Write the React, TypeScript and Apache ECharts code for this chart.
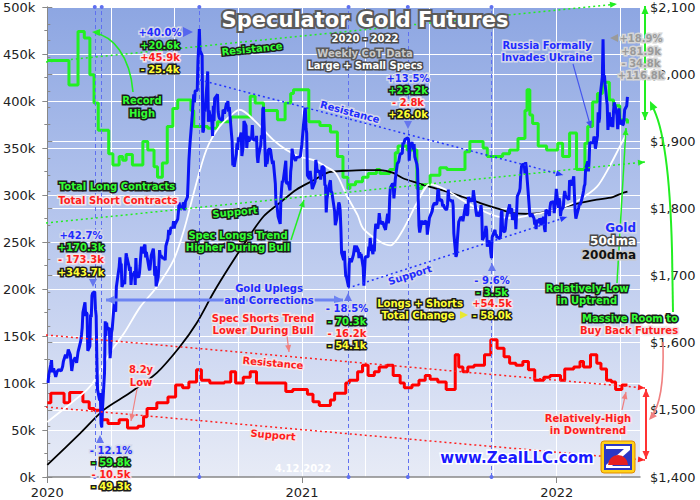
import React, { useEffect, useRef } from "react";
import * as echarts from "echarts";

// ---------- DATA ----------
// Gold price (right axis), [month, day, close]
const gold2020: number[][] = [
  [1,2,1540],[1,3,1552],[1,6,1568],[1,7,1574],[1,8,1556],[1,10,1562],[1,13,1549],[1,15,1557],[1,17,1560],[1,21,1558],[1,23,1565],[1,24,1572],[1,27,1582],[1,29,1577],[1,31,1590],
  [2,3,1582],[2,5,1558],[2,7,1572],[2,10,1578],[2,12,1570],[2,14,1586],[2,18,1603],[2,19,1612],[2,20,1622],[2,21,1645],[2,24,1660],[2,25,1640],[2,26,1645],[2,27,1643],[2,28,1588],
  [3,2,1595],[3,3,1642],[3,4,1638],[3,5,1670],[3,6,1674],[3,9,1676],[3,10,1650],[3,11,1640],[3,12,1577],[3,13,1530],[3,16,1514],[3,17,1525],[3,18,1480],[3,19,1474],[3,20,1499],[3,23,1555],[3,24,1632],[3,25,1610],[3,26,1630],[3,27,1620],[3,30,1622],[3,31,1577],
  [4,1,1591],[4,2,1615],[4,3,1620],[4,6,1660],[4,7,1650],[4,8,1646],[4,9,1683],[4,13,1713],[4,14,1727],[4,15,1716],[4,16,1718],[4,17,1683],[4,20,1693],[4,21,1687],[4,22,1714],[4,23,1733],[4,24,1728],[4,27,1714],[4,28,1707],[4,29,1713],[4,30,1686],
  [5,1,1700],[5,4,1703],[5,5,1706],[5,6,1686],[5,7,1726],[5,8,1702],[5,11,1697],[5,12,1703],[5,13,1715],[5,14,1729],[5,15,1743],[5,18,1733],[5,19,1744],[5,20,1746],[5,21,1727],[5,22,1735],[5,26,1710],[5,27,1708],[5,28,1718],[5,29,1730],
  [6,1,1740],[6,2,1727],[6,3,1700],[6,4,1714],[6,5,1684],[6,8,1698],[6,9,1716],[6,10,1738],[6,11,1729],[6,12,1730],[6,15,1725],[6,16,1727],[6,17,1727],[6,18,1723],[6,19,1744],[6,22,1755],[6,23,1768],[6,24,1761],[6,25,1763],[6,26,1771],[6,29,1772],[6,30,1781],
  [7,1,1770],[7,2,1776],[7,6,1784],[7,7,1795],[7,8,1809],[7,9,1803],[7,10,1798],[7,13,1803],[7,14,1809],[7,15,1807],[7,16,1797],[7,17,1810],[7,20,1817],[7,21,1842],[7,22,1871],[7,23,1888],[7,24,1902],[7,27,1941],[7,28,1958],[7,29,1970],[7,30,1958],[7,31,1975],
  [8,3,1976],[8,4,2019],[8,5,2040],[8,6,2067],[8,7,2035],[8,10,2028],[8,11,1913],[8,12,1916],[8,13,1954],[8,14,1944],[8,17,1986],[8,18,2004],[8,19,1929],[8,20,1946],[8,21,1940],[8,24,1928],[8,25,1908],[8,26,1953],[8,27,1930],[8,28,1964],[8,31,1968],
  [9,1,1970],[9,2,1944],[9,3,1937],[9,4,1934],[9,8,1931],[9,9,1947],[9,10,1946],[9,11,1941],[9,14,1957],[9,15,1955],[9,16,1960],[9,17,1944],[9,18,1951],[9,21,1912],[9,22,1900],[9,23,1864],[9,24,1868],[9,25,1862],[9,28,1881],[9,29,1897],[9,30,1887],
  [10,1,1906],[10,2,1900],[10,5,1913],[10,6,1878],[10,7,1886],[10,8,1893],[10,9,1930],[10,12,1923],[10,13,1890],[10,14,1902],[10,15,1908],[10,16,1900],[10,19,1905],[10,20,1906],[10,21,1924],[10,22,1905],[10,23,1902],[10,26,1902],[10,27,1908],[10,28,1878],[10,29,1868],[10,30,1879],
  [11,2,1894],[11,3,1909],[11,4,1904],[11,5,1948],[11,6,1951],[11,9,1862],[11,10,1877],[11,11,1866],[11,12,1873],[11,13,1888],[11,16,1888],[11,17,1880],[11,18,1872],[11,19,1866],[11,20,1871],[11,23,1837],[11,24,1805],[11,25,1807],[11,27,1788],[11,30,1777],
  [12,1,1815],[12,2,1830],[12,3,1841],[12,4,1839],[12,7,1863],[12,8,1871],[12,9,1838],[12,10,1837],[12,11,1840],[12,14,1827],[12,15,1855],[12,16,1864],[12,17,1889],[12,18,1882],[12,21,1873],[12,22,1871],[12,23,1875],[12,24,1876],[12,28,1877],[12,29,1878],[12,30,1887],[12,31,1895],
];
const gold2021: number[][] = [
  [1,4,1944],[1,5,1950],[1,6,1919],[1,7,1912],[1,8,1849],[1,11,1844],[1,12,1856],[1,13,1846],[1,14,1846],[1,15,1829],[1,19,1840],[1,20,1872],[1,21,1866],[1,22,1855],[1,25,1856],[1,26,1851],[1,27,1843],[1,28,1843],[1,29,1863],
  [2,1,1860],[2,2,1835],[2,3,1834],[2,4,1794],[2,5,1814],[2,8,1834],[2,9,1838],[2,10,1842],[2,11,1825],[2,12,1824],[2,16,1796],[2,17,1775],[2,18,1775],[2,19,1784],[2,22,1809],[2,23,1806],[2,24,1797],[2,25,1770],[2,26,1734],
  [3,1,1723],[3,2,1737],[3,3,1715],[3,4,1699],[3,5,1698],[3,8,1683],[3,9,1717],[3,10,1726],[3,11,1722],[3,12,1720],[3,15,1731],[3,16,1731],[3,17,1745],[3,18,1735],[3,19,1744],[3,22,1738],[3,23,1726],[3,24,1735],[3,25,1727],[3,26,1732],[3,29,1712],[3,30,1685],[3,31,1708],
  [4,1,1728],[4,5,1728],[4,6,1743],[4,7,1737],[4,8,1756],[4,9,1745],[4,12,1732],[4,13,1746],[4,14,1736],[4,15,1764],[4,16,1777],[4,19,1770],[4,20,1779],[4,21,1793],[4,22,1784],[4,23,1777],[4,26,1780],[4,27,1777],[4,28,1773],[4,29,1771],[4,30,1768],
  [5,3,1792],[5,4,1778],[5,5,1784],[5,6,1815],[5,7,1831],[5,10,1837],[5,11,1836],[5,12,1815],[5,13,1826],[5,14,1843],[5,17,1867],[5,18,1868],[5,19,1870],[5,20,1876],[5,21,1881],[5,24,1882],[5,25,1898],[5,26,1896],[5,27,1896],[5,28,1903],
  [6,1,1905],[6,2,1903],[6,3,1871],[6,4,1891],[6,7,1899],[6,8,1893],[6,9,1888],[6,10,1896],[6,11,1877],[6,14,1866],[6,15,1858],[6,16,1811],[6,17,1774],[6,18,1764],[6,21,1782],[6,22,1778],[6,23,1779],[6,24,1776],[6,25,1781],[6,28,1780],[6,29,1761],[6,30,1770],
  [7,1,1777],[7,2,1786],[7,6,1796],[7,7,1803],[7,8,1803],[7,9,1808],[7,12,1806],[7,13,1809],[7,14,1827],[7,15,1828],[7,16,1812],[7,19,1813],[7,20,1811],[7,21,1803],[7,22,1806],[7,23,1802],[7,26,1798],[7,27,1799],[7,28,1806],[7,29,1828],[7,30,1813],
  [8,2,1812],[8,3,1810],[8,4,1813],[8,5,1804],[8,6,1763],[8,9,1728],[8,10,1731],[8,11,1752],[8,12,1752],[8,13,1780],[8,16,1787],[8,17,1786],[8,18,1787],[8,19,1781],[8,20,1781],[8,23,1806],[8,24,1804],[8,25,1789],[8,26,1792],[8,27,1817],[8,30,1810],[8,31,1813],
  [9,1,1815],[9,2,1810],[9,3,1827],[9,7,1794],[9,8,1788],[9,9,1795],[9,10,1788],[9,13,1794],[9,14,1805],[9,15,1794],[9,16,1753],[9,17,1755],[9,20,1764],[9,21,1774],[9,22,1768],[9,23,1743],[9,24,1750],[9,27,1751],[9,28,1734],[9,29,1726],[9,30,1757],
  [10,1,1760],[10,4,1768],[10,5,1760],[10,6,1761],[10,7,1756],[10,8,1757],[10,11,1755],[10,12,1760],[10,13,1793],[10,14,1797],[10,15,1767],[10,18,1765],[10,19,1770],[10,20,1782],[10,21,1782],[10,22,1793],[10,25,1806],[10,26,1793],[10,27,1798],[10,28,1800],[10,29,1783],
  [11,1,1793],[11,2,1788],[11,3,1769],[11,4,1792],[11,5,1818],[11,8,1825],[11,9,1830],[11,10,1850],[11,11,1862],[11,12,1865],[11,15,1866],[11,16,1852],[11,17,1869],[11,18,1860],[11,19,1846],[11,22,1805],[11,23,1790],[11,24,1788],[11,26,1792],[11,29,1785],[11,30,1776],
  [12,1,1783],[12,2,1769],[12,3,1783],[12,6,1779],[12,7,1785],[12,8,1783],[12,9,1775],[12,10,1783],[12,13,1787],[12,14,1770],[12,15,1765],[12,16,1798],[12,17,1798],[12,20,1793],[12,21,1789],[12,22,1802],[12,23,1809],[12,27,1810],[12,28,1793],[12,29,1805],[12,30,1815],[12,31,1829],
];
const gold2022: number[][] = [
  [1,3,1801],[1,4,1815],[1,5,1810],[1,6,1789],[1,7,1797],[1,10,1802],[1,11,1818],[1,12,1826],[1,13,1821],[1,14,1817],[1,18,1813],[1,19,1842],[1,20,1840],[1,21,1834],[1,24,1843],[1,25,1848],[1,26,1820],[1,27,1796],[1,28,1785],[1,31,1797],
  [2,1,1801],[2,2,1807],[2,3,1805],[2,4,1808],[2,7,1820],[2,8,1826],[2,9,1833],[2,10,1836],[2,11,1859],[2,14,1870],[2,15,1855],[2,16,1871],[2,17,1899],[2,18,1898],[2,22,1898],[2,23,1907],[2,24,1904],[2,25,1889],[2,28,1908],
  [3,1,1943],[3,2,1928],[3,3,1935],[3,4,1969],[3,7,1996],[3,8,2052],[3,9,1990],[3,10,1998],[3,11,1984],[3,14,1954],[3,15,1917],[3,16,1930],[3,17,1943],[3,18,1922],[3,21,1936],[3,22,1921],[3,23,1944],[3,24,1958],[3,25,1954],[3,28,1939],[3,29,1918],[3,30,1933],[3,31,1949],
  [4,1,1925],[4,4,1932],[4,5,1924],[4,6,1925],[4,7,1931],[4,8,1947],[4,11,1953],[4,12,1966],
];

// Gold 50-day moving average (right axis)
const gold50dma: [string, number][] = [
  ["2020-01-01",1482],["2020-01-29",1505],["2020-02-27",1530],["2020-03-12",1549],["2020-03-31",1585],["2020-04-20",1614],["2020-05-13",1653],["2020-06-06",1683],["2020-06-30",1723],["2020-07-15",1768],["2020-07-29",1823],["2020-08-16",1887],["2020-09-04",1922],["2020-09-24",1942],["2020-10-03",1947],["2020-10-23",1932],["2020-11-20",1902],["2020-12-09",1887],["2020-12-28",1877],
  ["2021-01-17",1872],["2021-02-04",1862],["2021-02-18",1852],["2021-03-05",1820],["2021-03-21",1790],["2021-03-29",1770],["2021-04-23",1750],["2021-05-07",1745],["2021-05-25",1768],["2021-06-14",1808],["2021-07-03",1836],["2021-07-27",1827],["2021-08-19",1812],["2021-09-13",1798],["2021-10-07",1788],["2021-10-30",1786],["2021-11-23",1790],["2021-12-17",1795],
  ["2022-01-09",1802],["2022-02-02",1813],["2022-02-27",1832],["2022-03-17",1862],["2022-04-01",1892],["2022-04-12",1914],
];
// Gold 200-day moving average (right axis)
const gold200dma: [string, number][] = [
  ["2020-01-01",1418],["2020-02-17",1465],["2020-03-22",1500],["2020-04-28",1525],["2020-06-06",1555],["2020-07-09",1594],["2020-08-02",1629],["2020-08-26",1674],["2020-09-18",1713],["2020-10-13",1753],["2020-11-06",1788],["2020-11-29",1808],["2020-12-23",1828],
  ["2021-01-17",1842],["2021-02-08",1854],["2021-03-05",1856],["2021-03-29",1857],["2021-04-22",1857],["2021-05-11",1853],["2021-05-25",1845],["2021-06-14",1838],["2021-07-03",1832],["2021-07-27",1825],["2021-08-19",1817],["2021-09-13",1808],["2021-10-07",1800],["2021-10-30",1793],["2021-11-23",1792],["2021-12-17",1795],
  ["2022-01-09",1802],["2022-02-02",1808],["2022-02-27",1813],["2022-03-22",1817],["2022-04-05",1823],["2022-04-12",1825],
];
// Total long contracts, thousands (left axis), value holds from the date on
const totalLongs: [string, number][] = [
  ["2020-01-01",443],["2020-02-01",417],["2020-02-14",474],["2020-02-23",467],["2020-03-02",428],["2020-03-08",398],["2020-03-14",369],["2020-03-29",344],["2020-04-04",332],["2020-04-13",341],["2020-04-18",337],["2020-04-23",343],["2020-05-02",332],["2020-05-17",357],["2020-05-24",348],["2020-06-02",330],["2020-06-07",319],["2020-06-14",334],["2020-06-21",373],["2020-06-29",392],["2020-07-06",401],["2020-07-25",390],["2020-07-29",373],["2020-08-18",371],["2020-09-01",378],["2020-09-20",383],["2020-10-18",405],["2020-10-25",398],["2020-11-06",390],["2020-11-26",380],["2020-12-07",398],["2020-12-15",408],["2020-12-19",412],
  ["2021-01-10",378],["2021-01-26",374],["2021-02-10",367],["2021-02-20",341],["2021-02-28",319],["2021-03-07",307],["2021-03-10",311],["2021-03-18",314],["2021-03-28",319],["2021-04-05",323],["2021-04-17",327],["2021-04-22",323],["2021-05-06",327],["2021-05-14",345],["2021-05-18",352],["2021-05-31",348],["2021-06-14",307],["2021-06-21",311],["2021-07-03",321],["2021-07-17",329],["2021-07-27",327],["2021-08-22",346],["2021-08-29",357],["2021-09-17",350],["2021-09-23",341],["2021-10-15",344],["2021-10-25",348],["2021-11-06",360],["2021-11-16",390],["2021-11-19",412],["2021-11-23",385],["2021-11-27",376],["2021-12-05",352],["2021-12-17",348],
  ["2022-01-02",355],["2022-01-09",341],["2022-01-19",366],["2022-01-29",327],["2022-02-10",355],["2022-02-14",373],["2022-02-21",399],["2022-02-28",408],["2022-03-07",420],["2022-03-17",401],["2022-03-23",395],["2022-04-01",380],["2022-04-12",376],
];
// Total short contracts, thousands (left axis)
const totalShorts: [string, number][] = [
  ["2020-01-01",79],["2020-01-06",89],["2020-01-25",79],["2020-02-02",90],["2020-02-21",80],["2020-03-01",73],["2020-03-08",71],["2020-03-19",61],["2020-03-28",57],["2020-04-13",61],["2020-04-25",52],["2020-05-10",54],["2020-05-18",64],["2020-05-23",73],["2020-06-06",79],["2020-06-22",85],["2020-07-03",98],["2020-07-13",95],["2020-07-22",101],["2020-08-02",114],["2020-08-09",103],["2020-08-21",100],["2020-09-11",101],["2020-09-20",112],["2020-09-27",100],["2020-10-08",106],["2020-10-18",112],["2020-10-27",100],["2020-12-08",91],["2020-12-18",93],
  ["2021-01-08",88],["2021-01-16",80],["2021-01-25",76],["2021-02-10",82],["2021-02-16",89],["2021-03-04",100],["2021-03-09",103],["2021-03-21",112],["2021-03-28",119],["2021-04-05",108],["2021-04-14",112],["2021-04-21",117],["2021-05-02",119],["2021-05-11",108],["2021-05-21",100],["2021-05-27",95],["2021-06-07",98],["2021-06-17",103],["2021-06-26",108],["2021-07-03",104],["2021-07-14",101],["2021-07-26",93],["2021-08-08",130],["2021-08-13",117],["2021-08-19",112],["2021-08-26",117],["2021-09-04",119],["2021-09-19",130],["2021-09-28",146],["2021-10-07",137],["2021-10-17",128],["2021-10-25",121],["2021-11-03",119],["2021-11-13",123],["2021-11-21",114],["2021-11-30",103],["2021-12-13",106],["2021-12-22",108],
  ["2022-01-06",103],["2022-01-12",115],["2022-01-25",117],["2022-02-03",123],["2022-02-08",117],["2022-02-18",130],["2022-02-27",121],["2022-03-05",115],["2022-03-13",103],["2022-03-20",101],["2022-03-26",93],["2022-04-04",98],["2022-04-12",98],
];
// Dates of the major gold highs and lows (dashed markers)
const turningPoints = ["2020-03-09","2020-03-19","2020-08-06","2021-03-08","2021-06-01","2021-09-29"];
const yearLabels = [2020, 2021, 2022];

// ---------- HELPERS ----------
const DAY0 = Date.UTC(2020, 0, 1);
const dayOf = (y: number, m: number, d: number) => (Date.UTC(y, m - 1, d) - DAY0) / 864e5;
const dayStr = (s: string) => { const [y, m, d] = s.split("-").map(Number); return dayOf(y, m, d); };
const goldData = [
  ...gold2020.map(([m, d, p]) => [dayOf(2020, m, d), p]),
  ...gold2021.map(([m, d, p]) => [dayOf(2021, m, d), p]),
  ...gold2022.map(([m, d, p]) => [dayOf(2022, m, d), p]),
];
const pairs = (a: [string, number][], k = 1) => a.map(([s, v]) => [dayStr(s), v * k]);

const FONT = '"DejaVu Sans", Verdana, sans-serif';
const CB = "#1f2cff", CBS = "#d4d8ea";
const CG = "#33ff33", CGS = "#1c1c1c";
const CR = "#ff1c1c", CRS = "#f2e6ea";
const CY = "#ffff30", CYS = "#1c1c1c";

const txt = (x: number, y: number, text: string, fill: string, stroke: string, size = 10, o: any = {}) => ({
  type: "text", x, y, z: 120, silent: true, rotation: o.rotation || 0,
  style: {
    text, fill, stroke, lineWidth: o.lw ?? 3, font: `bold ${size}px ${FONT}`,
    align: o.align || "center", verticalAlign: "middle", textAlign: o.align || "center", textVerticalAlign: "middle",
    opacity: o.opacity ?? 1,
  },
});
const seg = (pts: number[][], color: string, w: number, dash?: number[]) => ({
  type: "polyline", z: 110, silent: true, shape: { points: pts },
  style: { stroke: color, lineWidth: w, lineDash: dash, fill: null },
});
const head = (x1: number, y1: number, x2: number, y2: number, color: string, len = 7, wid = 6) => {
  const a = Math.atan2(y2 - y1, x2 - x1);
  const bx = x2 - len * Math.cos(a), by = y2 - len * Math.sin(a);
  const s = wid / 2;
  return {
    type: "polygon", z: 111, silent: true,
    shape: { points: [[x2, y2], [bx + s * Math.sin(a), by - s * Math.cos(a)], [bx - s * Math.sin(a), by + s * Math.cos(a)]] },
    style: { fill: color },
  };
};
const arrow = (x1: number, y1: number, x2: number, y2: number, color: string, w = 1.5, dash?: number[], both = false, len = 7, wid = 6) => {
  const out: any[] = [seg([[x1, y1], [x2, y2]], color, w, dash), head(x1, y1, x2, y2, color, len, wid)];
  if (both) out.push(head(x2, y2, x1, y1, color, len, wid));
  return out;
};
const curve = (x1: number, y1: number, c1x: number, c1y: number, c2x: number, c2y: number, x2: number, y2: number, color: string, w = 1.5) => ({
  type: "bezierCurve", z: 110, silent: true,
  shape: { x1, y1, cpx1: c1x, cpy1: c1y, cpx2: c2x, cpy2: c2y, x2, y2 },
  style: { stroke: color, lineWidth: w, fill: null },
});
const tri = (x: number, y: number, dir: "up" | "down" | "right" | "left", color: string, s = 4) => {
  const pts: Record<string, number[][]> = {
    up: [[x, y - s], [x - s, y + s], [x + s, y + s]],
    down: [[x, y + s], [x - s, y - s], [x + s, y - s]],
    right: [[x + s, y], [x - s, y - s], [x - s, y + s]],
    left: [[x - s, y], [x + s, y - s], [x + s, y + s]],
  };
  return { type: "polygon", z: 111, silent: true, shape: { points: pts[dir] }, style: { fill: color } };
};

const annotations: any[] = [
  // title block
  txt(365, 20, "Speculator Gold Futures", "#ffffff", "#5a5a5a", 21, { lw: 4 }),
  txt(365, 38, "2020 - 2022", "#ffffff", "#4a4a4a", 10),
  txt(365, 53, "Weekly CoT Data", "#c8c8c8", "#5a5a5a", 10),
  txt(365, 65, "Large + Small Specs", "#ffffff", "#4a4a4a", 10),
  // trend lines
  ...arrow(46, 62, 617, 4, "#22ee22", 1.5, [2, 3]),
  ...arrow(46, 223, 645, 162, "#22ee22", 1.5, [2, 3]),
  ...arrow(200, 80, 563, 175, "#2233ff", 1.5, [2, 3]),
  ...arrow(348, 288, 567, 217, "#2233ff", 1.5, [2, 3]),
  ...arrow(46, 335, 645, 388, "#ff2020", 1.5, [2, 3]),
  ...arrow(46, 407, 645, 460, "#ff2020", 1.5, [2, 3]),
  txt(252, 49, "Resistance", CG, CGS, 10, { rotation: 0.1 }),
  txt(235, 212, "Support", CG, CGS, 10, { rotation: 0.1 }),
  txt(350, 112, "Resistance", CB, CBS, 10, { rotation: -0.26 }),
  txt(410, 275, "Support", CB, CBS, 10, { rotation: 0.31 }),
  txt(273, 363, "Resistance", CR, CRS, 10, { rotation: -0.088 }),
  txt(273, 435, "Support", CR, CRS, 10, { rotation: -0.088 }),
  // Aug 2020 peak
  txt(160, 32, "+40.0%", CB, CBS), txt(160, 45, "+20.6k", CG, CGS), txt(160, 57, "+45.9k", CR, CRS), txt(160, 69, "- 25.4k", CY, CYS),
  tri(188, 32, "right", "#5566ee", 5),
  // record high
  txt(142, 100, "Record", CG, CGS), txt(142, 113, "High", CG, CGS),
  curve(133, 92, 130, 55, 112, 36, 95, 33, "#22ee22", 1.6), head(105, 33, 92, 32, "#22ee22", 8, 7),
  // legend-like text
  txt(117, 186, "Total Long Contracts", CG, CGS), txt(118, 200, "Total Short Contracts", CR, CRS),
  txt(238, 235, "Spec Longs Trend", CG, CGS), txt(238, 247, "Higher During Bull", CG, CGS),
  ...arrow(291, 240, 304, 200, "#22ee22", 1.5),
  // Mar 2020
  txt(81, 235, "+42.7%", CB, CBS), txt(81, 247, "+170.3k", CG, CGS), txt(81, 259, "- 173.3k", CR, CRS), txt(81, 272, "+343.7k", CY, CYS),
  tri(93, 283, "down", "#6677ee", 4),
  txt(111, 450, "- 12.1%", CB, CBS), txt(111, 462, "- 59.8k", CG, CGS), txt(111, 474, "- 10.5k", CR, CRS), txt(111, 486, "- 49.3k", CY, CYS),
  tri(100, 439, "up", "#6677ee", 4),
  txt(141, 369, "8.2y", CR, CRS), txt(141, 382, "Low", CR, CRS),
  ...arrow(137, 389, 131, 421, "#f08080", 1.2),
  // uplegs
  ...arrow(106, 300, 343, 300, "#6d84f2", 3, undefined, true, 9, 9),
  txt(269, 288, "Gold Uplegs", CB, CBS), txt(269, 300, "and Corrections", CB, CBS),
  txt(263, 318, "Spec Shorts Trend", CR, CRS), txt(263, 330, "Lower During Bull", CR, CRS),
  ...arrow(287, 336, 289, 352, "#f08080", 1.2),
  // Mar 2021
  txt(347, 308, "- 18.5%", CB, CBS), txt(347, 321, "- 70.3k", CG, CGS), txt(347, 333, "- 16.2k", CR, CRS), txt(347, 345, "- 54.1k", CY, CYS),
  tri(348, 297, "up", "#6677ee", 4),
  txt(420, 303, "Longs + Shorts", CY, CYS), txt(418, 315, "Total Change", CY, CYS),
  tri(464, 315, "right", "#e8e830", 4),
  // Jun 2021
  txt(408, 78, "+13.5%", CB, CBS), txt(408, 90, "+23.2k", CG, CGS), txt(408, 102, "- 2.8k", CR, CRS), txt(408, 114, "+26.0k", CY, CYS),
  tri(408, 125, "down", "#6677ee", 4),
  // Sep 2021
  txt(492, 280, "- 9.6%", CB, CBS), txt(492, 292, "- 3.5k", CG, CGS), txt(492, 303, "+54.5k", CR, CRS), txt(492, 315, "- 58.0k", CY, CYS),
  tri(492, 267, "up", "#6677ee", 4),
  // Russia
  txt(547, 45, "Russia Formally", CB, CBS), txt(547, 57, "Invades Ukraine", CB, CBS),
  ...arrow(573, 64, 591, 128, "#4455ee", 1.1),
  txt(641, 38, "+18.9%", "#9a9a9a", "#d6d6d6"), txt(641, 51, "+81.9k", "#9a9a9a", "#d6d6d6"),
  txt(641, 63, "- 34.8k", "#9a9a9a", "#d6d6d6"), txt(641, 75, "+116.8k", "#9a9a9a", "#d6d6d6"),
  tri(614, 38, "left", "#9a9a9a", 4),
  // right side
  txt(636, 228, "Gold", CB, CBS, 12, { align: "right" }),
  txt(636, 241, "50dma", "#ffffff", "#4a4a4a", 12, { align: "right" }),
  txt(636, 255, "200dma", "#111111", "#c8c8c8", 12, { align: "right" }),
  txt(587, 288, "Relatively-Low", CG, CGS), txt(587, 300, "in Uptrend", CG, CGS),
  ...arrow(617, 283, 626, 128, "#22ee22", 1.5),
  txt(630, 318, "Massive Room to", CG, CGS), txt(629, 330, "Buy Back Futures", CR, CRS),
  ...arrow(645, 6, 645, 120, "#22ee22", 2, undefined, true, 8, 7),
  seg([[673, 312], [672, 250]], "#22ee22", 2),
  curve(672, 250, 670, 170, 663, 125, 652, 106, "#22ee22", 2), head(656, 114, 650, 101, "#22ee22", 9, 8),
  curve(663, 342, 664, 385, 660, 405, 651, 418, "#f08080", 1.6), head(656, 412, 649, 420, "#f08080", 8, 7),
  ...arrow(646, 389, 646, 459, "#ff3333", 2, undefined, true, 8, 7),
  txt(588, 418, "Relatively-High", CR, CRS), txt(588, 430, "in Downtrend", CR, CRS),
  ...arrow(622, 410, 626, 392, "#f08080", 1.2),
  // footer
  txt(303, 468, "4.12.2022", "#ffffff", "rgba(0,0,0,0)", 10, { lw: 0 }),
  txt(517, 458, "www.ZealLLC.com", "#1a1aff", "#ffffff", 15, { lw: 3 }),
  { type: "rect", z: 115, silent: true, shape: { x: 601, y: 441, width: 34, height: 32, r: 3 }, style: { fill: "#ffd21a", stroke: "#e08a00", lineWidth: 1 } },
  { type: "rect", z: 116, silent: true, shape: { x: 604, y: 444, width: 28, height: 26 }, style: { fill: "#2b37c4" } },
  { type: "polygon", z: 117, silent: true, shape: { points: [[606, 446], [630, 446], [630, 450], [612, 466], [630, 466], [630, 468], [606, 468], [606, 465], [624, 449], [606, 449]] }, style: { fill: "#ffffff" } },
  { type: "sector", z: 118, silent: true, shape: { cx: 618, cy: 465, r0: 0, r: 10, startAngle: Math.PI, endAngle: Math.PI * 2 }, style: { fill: "#e52020" } },
];

export default function App() {
  const ref = useRef<HTMLDivElement>(null);
  useEffect(() => {
    if (!ref.current) return;
    const chart = echarts.init(ref.current, undefined, { renderer: "svg" });
    const axisFont = { fontFamily: FONT, fontSize: 13, color: "#222" };
    const option: any = {
      animation: false,
      backgroundColor: "#ffffff",
      grid: {
        left: 46, right: 60, top: 7, bottom: 23, show: true, borderWidth: 0,
        backgroundColor: {
          type: "linear", x: 0, y: 0, x2: 0, y2: 1,
          colorStops: [
            { offset: 0, color: "#8da6e2" },
            { offset: 0.5, color: "#bac9ee" },
            { offset: 1, color: "#e7ebf6" },
          ],
        },
      },
      xAxis: [
        {
          type: "value", min: 0, max: 850, interval: 91.3125,
          axisLine: { show: true, lineStyle: { color: "#888", width: 1.5 } },
          axisTick: { show: false }, axisLabel: { show: false },
          splitLine: { show: true, lineStyle: { color: "#ffffff", width: 1 } },
        },
        {
          type: "value", min: 0, max: 850, interval: 365.25, position: "bottom",
          axisLine: { show: false },
          axisTick: { show: true, length: 6, lineStyle: { color: "#888" } },
          axisLabel: {
            ...axisFont, margin: 9, showMaxLabel: false,
            formatter: (v: number) => {
              const k = Math.round(v / 365.25);
              return Math.abs(v / 365.25 - k) < 0.01 && yearLabels[k] ? String(yearLabels[k]) : "";
            },
          },
          splitLine: { show: false },
        },
      ],
      yAxis: [
        {
          type: "value", min: 0, max: 500000, interval: 50000, position: "left",
          axisLine: { show: true, lineStyle: { color: "#888" } },
          axisTick: { show: true, length: 5, lineStyle: { color: "#888" } },
          minorTick: { show: true, splitNumber: 2, length: 3, lineStyle: { color: "#888" } },
          axisLabel: { ...axisFont, margin: 12, formatter: (v: number) => v / 1000 + "k" },
          splitLine: { show: true, lineStyle: { color: "#ffffff", width: 1 } },
        },
        {
          type: "value", min: 1400, max: 2100, interval: 100, position: "right",
          axisLine: { show: true, lineStyle: { color: "#888" } },
          axisTick: { show: true, length: 5, lineStyle: { color: "#888" } },
          minorTick: { show: true, splitNumber: 4, length: 3, lineStyle: { color: "#888" } },
          axisLabel: { ...axisFont, margin: 10, formatter: (v: number) => "$" + v.toLocaleString("en-US") },
          splitLine: { show: true, lineStyle: { color: "#ffffff", width: 1 } },
        },
      ],
      series: [
        {
          name: "Total Short Contracts", type: "line", step: "end", yAxisIndex: 0, z: 3,
          data: pairs(totalShorts, 1000), showSymbol: false, lineStyle: { color: "#ff0000", width: 3 },
        },
        {
          name: "Total Long Contracts", type: "line", step: "end", yAxisIndex: 0, z: 3,
          data: pairs(totalLongs, 1000), showSymbol: false, lineStyle: { color: "#22f022", width: 3 },
        },
        {
          name: "200dma", type: "line", yAxisIndex: 1, z: 4, smooth: 0.3,
          data: pairs(gold200dma), showSymbol: false, lineStyle: { color: "#000000", width: 1.8 },
        },
        {
          name: "50dma", type: "line", yAxisIndex: 1, z: 4, smooth: 0.3,
          data: pairs(gold50dma), showSymbol: false, lineStyle: { color: "#ffffff", width: 1.8 },
        },
        {
          name: "Gold", type: "line", yAxisIndex: 1, z: 5,
          data: goldData, showSymbol: false, lineStyle: { color: "#0a14f5", width: 3 },
          markLine: {
            silent: true, symbol: ["circle", "circle"], symbolSize: 4,
            label: { show: false },
            lineStyle: { color: "#5f70f0", type: [4, 3], width: 1 },
            data: turningPoints.map((s) => ({ xAxis: dayStr(s) })),
          },
        },
      ],
      graphic: annotations,
    };
    chart.setOption(option);
    return () => chart.dispose();
  }, []);
  return <div ref={ref} style={{ position: "absolute", left: 0, top: 0, width: 700, height: 500 }} />;
}
